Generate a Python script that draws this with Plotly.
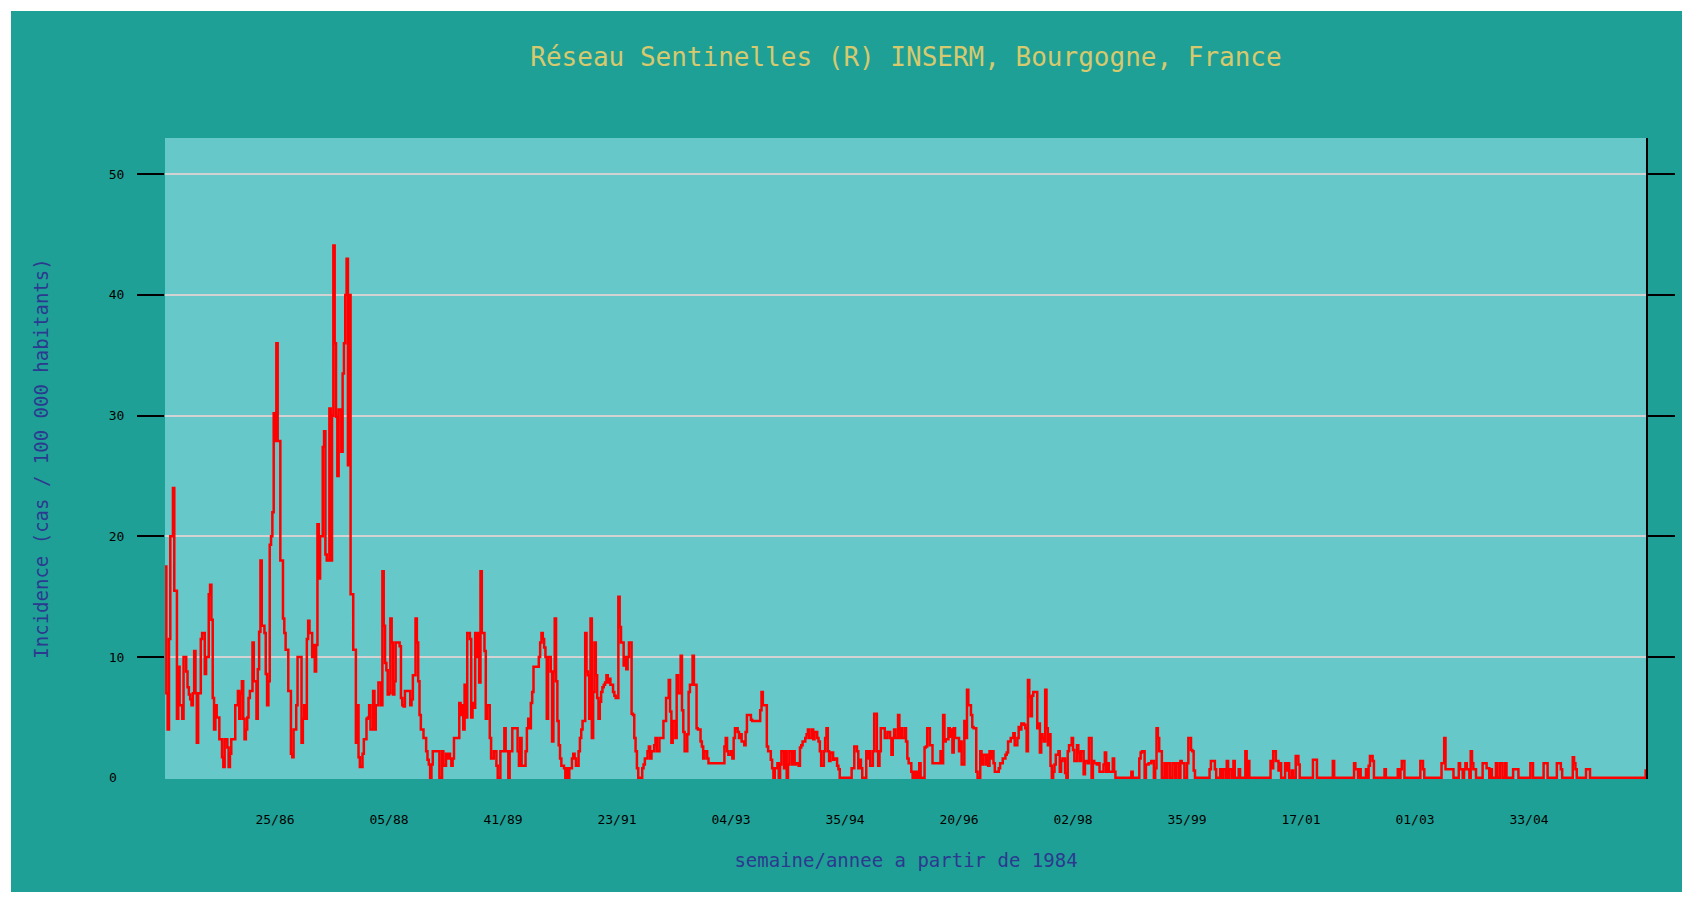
import plotly.graph_objects as go

# Weekly incidence (cases / 100 000 inhabitants), week 46/84 onward
incidence_1984_1988 = [
    17.5, 7.0, 4.0, 11.5, 20, 20, 24, 15.5, 15.5, 4.9,
    9.2, 6, 6, 4.9, 10, 10, 8.8, 7.5, 6.9, 6.5,
    6, 7, 10.5, 7, 2.9, 7, 7, 11.5, 12, 12,
    8.6, 10, 10, 15.2, 16, 13.1, 6.6, 4, 6, 5,
    5, 3.2, 3.2, 1.7, 0.9, 3.2, 3.2, 2.5, 0.9, 2,
    3.2, 3.2, 3.2, 6, 6, 7.2, 4.9, 7, 8, 4.9,
    3.2, 4, 5, 6.6, 7.2, 7.2, 11.2, 8, 8, 4.9,
    9, 12.1, 18, 12.6, 12.6, 12, 8.6, 6, 8, 19.3,
    20, 22, 30.2, 27.9, 36, 27.9, 27.9, 18, 18, 13.2,
    12, 10.6, 10.6, 7.2, 7.2, 2, 1.7, 4, 4, 6,
    10, 10, 10, 2.9, 4.9, 6, 4.9, 11.5, 13, 12,
    12, 10, 11, 8.8, 11, 21, 16.5, 20, 20, 27.4,
    28.7, 18.5, 18, 18, 30.6, 18, 30, 44.1, 36, 29.9,
    25, 30.5, 30.5, 27, 33.5, 36, 40, 43, 25.9, 40,
    15.2, 15.2, 10.6, 10.6, 2.9, 6, 1.7, 0.9, 0.9, 2,
    3.2, 3.2, 4.9, 5, 6, 4, 4, 7.2, 4, 6,
    6, 7.9, 7.9, 6, 17.1, 12.6, 9.5, 8.9, 6.9, 7,
    13.2, 11.2, 6.9, 8, 11.2, 11.2, 11.2, 10.9, 6.6, 6,
    5.9, 7.2, 7.2, 7.2, 7.2, 6,
]
incidence_1988_1991 = [
    6.5, 8.5, 8.5, 13.2, 11.2, 8, 5.2, 4, 4, 3.3,
    3.3, 2.2, 1.5, 1.1, 0, 1.1, 2.2, 2.2, 2.2, 2.2,
    2.2, 0, 0, 2.2, 1, 1, 2, 1.6, 2, 1.6,
    1, 1.6, 3.3, 3.3, 3.3, 3.3, 6.2, 5.2, 6, 4,
    7.7, 5, 12, 12, 11.5, 5, 6.2, 5.8, 12, 10,
    12, 7.9, 17.1, 12, 12, 10.5, 4.9, 6, 6, 3.3,
    1.6, 1.6, 2.2, 2.2, 1, 0, 0, 2.2, 2.2, 2.2,
    4.1, 2.2, 2.2, 0, 2.2, 2.2, 4.1, 4.1, 4.1, 4.1,
    2.2, 1, 3.3, 1, 1, 1, 2.2, 4.1, 4.9, 4.1,
    6.2, 7.1, 9.2, 9.2, 9.2, 9.2, 10, 11.2, 12, 11.5,
    10.8, 10, 4.9, 10, 10, 8.8, 3, 8.8, 13.2, 8,
    4.7, 2.7, 1.6, 1, 1, 0.8, 0, 0.8, 0, 0.8,
    0.8, 1.6, 2, 1.6, 1, 1, 2.2, 3.3, 4, 4.7,
    4.7, 12, 8.8, 8.5, 4.9, 13.2, 3.3, 7.1, 11.2, 8.5,
    6.6, 4.9, 6.3, 7.1, 7.5, 7.7, 7.9, 8.5, 7.9, 8.2,
    7.7, 7.7, 7.1, 6.8, 6.6, 6.6, 15, 12.5, 11.2, 11.2,
    9.3, 10, 9, 10, 11.2, 11.2, 5.3, 5.2, 3.3, 2.2,
    0.8, 0, 0, 0, 0.8, 1.1, 1.6, 1.6, 2.2, 2.6,
    1.6, 2.2, 2.2, 2.7, 3.3,
]
incidence_1991_1995 = [
    2.2, 2.2, 3.3, 3.3, 3.3, 4.7, 4.7, 6.6, 6.6, 8.1,
    5.5, 2.9, 4.7, 4.7, 3.3, 8.5, 7, 7, 10.1, 5.6,
    3.8, 2.2, 2.2, 3.6, 7.1, 7.7, 7.7, 10.1, 7.7, 7.7,
    4.1, 4, 4, 3, 2.6, 1.6, 2.2, 2.2, 1.6, 1.2,
    1.2, 1.2, 1.2, 1.2, 1.2, 1.2, 1.2, 1.2, 1.2, 1.2,
    1.2, 2.6, 3.3, 2.2, 1.9, 1.9, 2.2, 1.6, 3.3, 4.1,
    4.1, 3.8, 3.3, 3.6, 3, 3, 2.7, 3.8, 5.2, 5.2,
    5.2, 4.8, 4.7, 4.7, 4.7, 4.7, 4.7, 4.7, 5.6, 7.1,
    6, 6, 6, 2.6, 2.2, 2.2, 1.5, 0.8, 0, 0.8,
    0.8, 1.2, 0, 1.1, 2.2, 2.2, 0.8, 2.2, 0, 1.1,
    2.2, 2.2, 1.1, 2.2, 1.1, 1.2, 1.2, 1, 2.5, 2.7,
    3, 3, 3.3, 3.6, 4, 3.3, 3.3, 4, 3.2, 3.8,
    3.8, 3.3, 3, 2.2, 1, 1, 2.2, 3.3, 4.1, 2.2,
    1.4, 2.1, 2.1, 1.5, 1.6, 1.6, 1, 0.7, 0, 0,
    0, 0, 0, 0, 0, 0, 0, 0.8, 0.8, 2.6,
    2.6, 2.2, 0.8, 1.5, 0.8, 0, 0, 0, 2.2, 1.6,
    2.2, 1, 1, 2.2, 5.3, 5.3, 2.2, 1, 2.2, 4.1,
    4.1, 4.1, 3.3, 3.3, 3.8, 3.8, 3.3, 1.9, 3.3, 4,
    3.3, 3.3, 5.2, 3.3, 4.1, 3.3, 3.3,
]
incidence_1995_1999 = [
    4.1, 3, 1.6, 1.2, 1.2, 0.5, 0, 0.5, 0, 0.5,
    0, 1.2, 0, 0, 0, 2.5, 2.6, 4.1, 4.1, 2.7,
    2.7, 1.2, 1.2, 1.2, 1.2, 1.2, 1.2, 2.2, 1.2, 5.2,
    3, 3.2, 3.2, 4.1, 3.4, 4, 2.1, 4.1, 3.3, 3.3,
    3.3, 2.2, 3, 1.1, 1.1, 4.7, 3.3, 7.3, 6, 6,
    5.2, 4.2, 4.1, 4.1, 0.5, 0, 0, 2.2, 1.1, 1.9,
    1.9, 1.1, 1.9, 1, 2.2, 1.6, 2.2, 1.2, 0.5, 0.5,
    0.5, 0.8, 1.2, 1.2, 1.6, 1.6, 1.9, 2.1, 3, 3,
    3.3, 3.3, 3.7, 2.7, 2.7, 3.3, 4.2, 4, 4.5, 4.5,
    4.4, 4.1, 2.2, 8.1, 6.7, 5.1, 6.8, 7.1, 7.1, 7.1,
    4.1, 4.5, 2.1, 3.6, 3.3, 3, 7.3, 4.1, 2.7, 3.6,
    1, 0, 0.5, 1.1, 1.9, 1.9, 2.2, 0.5, 1.4, 1.6,
    1.6, 0.4, 0, 2.2, 2.7, 2.7, 3.3, 2.3, 1.4, 1.4,
    2.7, 2.1, 1.4, 2.2, 2.2, 0.3, 1.4, 1.4, 1.2, 3.3,
    3.3, 0, 1.4, 1.2, 1.2, 1.1, 1.2, 0.5, 0.5, 0.5,
    1.1, 2.1, 0.5, 1.2, 0.5, 0.5, 0.5, 1.6, 0.5, 0,
    0, 0, 0, 0, 0, 0, 0, 0, 0, 0,
    0, 0.5, 0, 0, 0, 0, 0, 1.6, 2.1, 2.2,
    2.2, 0, 1.1, 1.1, 1.2, 1.2,
]
incidence_1999_2002 = [
    1.4, 1.4, 0, 0.8, 4.1, 3.3, 2.2, 2.2, 0, 0,
    1.2, 0, 1.2, 1.2, 0, 0, 1.2, 1.2, 0, 1.2,
    1.2, 0, 1.4, 1.2, 1.2, 0, 0, 1.2, 3.3, 3.3,
    2.3, 2.2, 0.6, 0, 0, 0, 0, 0, 0, 0,
    0, 0, 0, 0, 0.7, 1.4, 1.4, 1.4, 0.7, 0,
    0, 0, 0.7, 0, 0.7, 0.7, 0, 1.4, 0, 0.7,
    0.7, 0, 1.4, 0, 0, 0, 0.7, 0, 0, 0,
    0, 2.2, 0, 1.4, 0, 0, 0, 0, 0, 0,
    0, 0, 0, 0, 0, 0, 0, 0, 0, 0,
    1.4, 0.8, 2.2, 2.2, 1.4, 1.4, 0.6, 1.2, 0, 0,
    0, 1.2, 0.6, 1.2, 0, 0, 0.6, 0, 0, 1.8,
    1.8, 1.1, 0, 0, 0, 0, 0, 0, 0, 0,
    0, 0, 1.5, 1.5, 1.5, 0, 0, 0, 0, 0,
    0, 0, 0, 0, 0, 0, 0, 1.4, 0, 0,
    0, 0, 0, 0, 0, 0, 0, 0, 0, 0,
    0, 0, 0, 1.2, 0.7, 0.7, 0, 0.7, 0, 0,
    0, 0, 0.7, 0, 1, 1.8, 1.8, 1.4, 0, 0,
    0, 0, 0, 0, 0, 0, 0.7, 0, 0, 0,
    0, 0, 0, 0, 0, 0,
]
incidence_2002_2006 = [
    0.7, 0, 0.7, 1.4, 1.4, 0, 0, 0, 0, 0,
    0, 0, 0, 0, 0, 0, 0, 1.4, 1.4, 0.7,
    0, 0, 0, 0, 0, 0, 0, 0, 0, 0,
    0, 0, 0, 1.2, 1.2, 3.3, 0.7, 0.7, 0.7, 0.7,
    0.7, 0.7, 0, 0, 0, 0, 1.2, 0.7, 0.7, 0,
    0.7, 1.2, 0.7, 0.7, 0, 2.2, 1.2, 0.7, 0.7, 0,
    0, 0, 0, 0, 1.2, 1.2, 1.2, 0.8, 0.8, 0,
    0.7, 0, 0, 0, 1.2, 0, 0, 1.2, 1.2, 0,
    0, 1.2, 0, 0, 0, 0, 0, 0.7, 0.7, 0.7,
    0.7, 0, 0, 0, 0, 0, 0, 0, 0, 0,
    1.2, 1.2, 0, 0, 0, 0, 0, 0, 0, 0,
    1.2, 1.2, 1.2, 0, 0, 0, 0, 0, 0, 0,
    1.2, 1.2, 1.2, 0.7, 0, 0, 0, 0, 0, 0,
    0, 0, 1.7, 1.2, 0.7, 0, 0, 0, 0, 0,
    0, 0, 0.7, 0.7, 0.7, 0, 0, 0, 0, 0,
    0, 0, 0, 0, 0, 0, 0, 0, 0, 0,
    0, 0, 0, 0, 0, 0, 0, 0, 0, 0,
    0, 0, 0, 0, 0, 0, 0, 0, 0, 0,
    0, 0, 0, 0, 0, 0, 0, 0.7,
]

x_tick_labels = ["25/86", "05/88", "41/89", "23/91", "04/93", "35/94",
                 "20/96", "02/98", "35/99", "17/01", "01/03", "33/04"]
first_label_week = 83      # week index of the first labelled week
label_every = 86           # weeks between labels
y_ticks = [10, 20, 30, 40, 50]   # ticks drawn with a tick mark
y_zero_label = "0"

title_text = "Réseau Sentinelles (R) INSERM, Bourgogne, France"
x_title = "semaine/annee a partir de 1984"
y_title = "Incidence (cas / 100 000 habitants)"

incidence = (incidence_1984_1988 + incidence_1988_1991 + incidence_1991_1995
             + incidence_1995_1999 + incidence_1999_2002 + incidence_2002_2006)
weeks = list(range(len(incidence)))
tick_vals = [first_label_week + label_every * k for k in range(len(x_tick_labels))]

OUTER = "#1FA096"
INNER = "#66C8C8"
MONO = "DejaVu Sans Mono"

W, H = 1693, 903
L, R, T, B = 165, 46, 138, 124
pw, ph = W - L - R, H - T - B


def px_to_paper_x(px):
    return (px - L) / pw


def px_to_paper_y(py):
    return (H - B - py) / ph


fig = go.Figure()
fig.add_trace(go.Scatter(
    x=weeks, y=incidence, mode="lines",
    line=dict(color="#FF0000", width=2.5, shape="hv"),
    hoverinfo="skip", showlegend=False,
))

fig.update_layout(
    width=W, height=H,
    margin=dict(l=L, r=R, t=T, b=B, autoexpand=False),
    paper_bgcolor="white",
    plot_bgcolor="rgba(0,0,0,0)",
    shapes=[
        dict(type="rect", xref="paper", yref="paper", layer="below",
             x0=px_to_paper_x(11), x1=px_to_paper_x(1682),
             y0=px_to_paper_y(892), y1=px_to_paper_y(11),
             fillcolor=OUTER, line=dict(width=0)),
        dict(type="rect", xref="paper", yref="paper", layer="below",
             x0=0, x1=1, y0=0, y1=1,
             fillcolor=INNER, line=dict(width=0)),
        dict(type="line", xref="paper", yref="paper", layer="above",
             x0=1, x1=1, y0=0, y1=1, line=dict(color="black", width=2)),
    ],
    annotations=[
        dict(text=y_zero_label, xref="paper", yref="y",
             x=px_to_paper_x(119), y=0, xanchor="right", yanchor="middle",
             showarrow=False, font=dict(family=MONO, size=13, color="black")),
    ],
    title=dict(text=title_text, x=0.5, xanchor="center", y=1 - 57 / H, yanchor="middle",
               xref="paper",
               font=dict(family=MONO, size=26, color="#D6C96E")),
    xaxis=dict(
        range=[0, len(incidence)],
        tickmode="array", tickvals=tick_vals, ticktext=x_tick_labels,
        ticks="", showgrid=False, zeroline=False, showline=False,
        ticklabelstandoff=31,
        tickfont=dict(family=MONO, size=13, color="black"),
        title=dict(text=x_title, standoff=27,
                   font=dict(family=MONO, size=19, color="#2B3A8F")),
    ),
    yaxis=dict(
        range=[-0.1, 53],
        tickmode="array", tickvals=y_ticks,
        ticks="outside", ticklen=27, tickwidth=2, tickcolor="black",
        mirror="ticks",
        showgrid=True, gridcolor="#D2D2D2", gridwidth=2,
        zeroline=False, showline=False,
        ticklabelstandoff=10,
        tickfont=dict(family=MONO, size=13, color="black"),
        title=dict(text=y_title, standoff=55,
                   font=dict(family=MONO, size=19, color="#2B3A8F")),
    ),
)

fig.write_html("out.html", config={"displayModeBar": False},
               post_script="document.body.style.margin='0';")
